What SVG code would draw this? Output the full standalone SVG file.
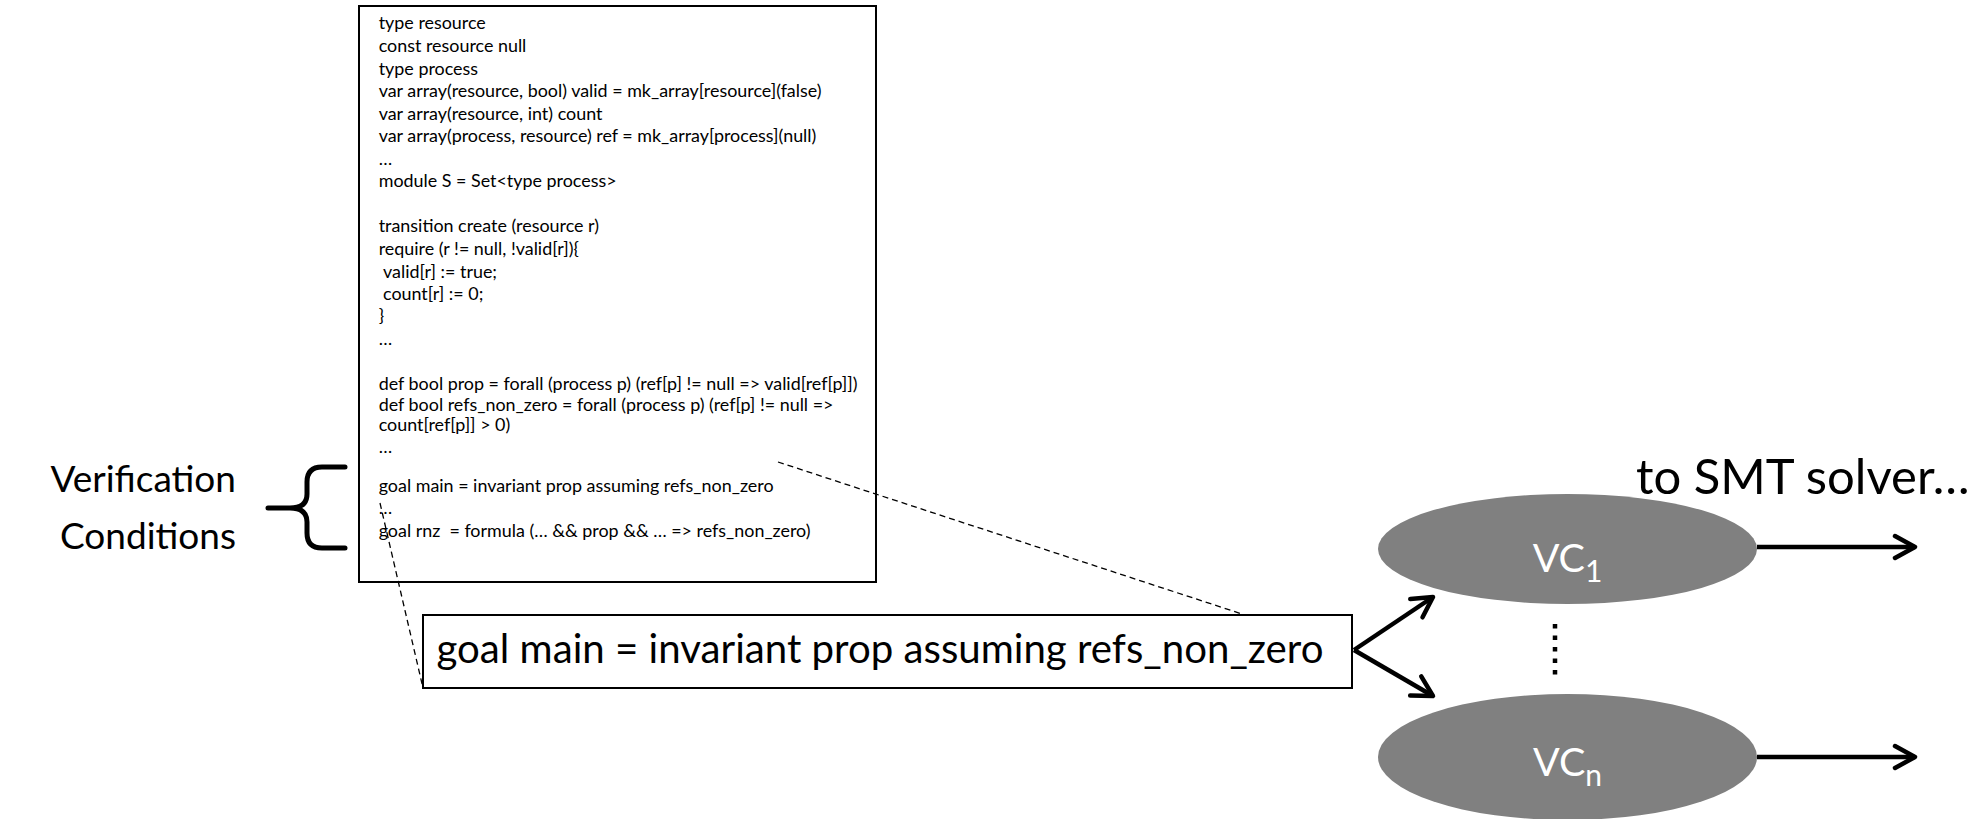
<svg xmlns="http://www.w3.org/2000/svg" width="1978" height="819" viewBox="0 0 1978 819">
  <style>
    .code { font-family: Lato, "Liberation Sans", sans-serif; font-size: 17.9px; fill: #000; }
    .big { font-family: Lato, "Liberation Sans", sans-serif; font-size: 40.2px; fill: #000; }
    .smt { font-family: Lato, "Liberation Sans", sans-serif; font-size: 49px; fill: #000; }
    .side { font-family: Lato, "Liberation Sans", sans-serif; font-size: 37px; fill: #000; }
    .vc { font-family: Lato, "Liberation Sans", sans-serif; font-size: 39.5px; fill: #fff; }
    .sub { font-size: 30px; }
    .box { fill: #fff; stroke: #000; stroke-width: 2; }
    .vcnode { fill: #808080; stroke: none; }
    .arrow { stroke: #000; stroke-width: 4.5; fill: none; marker-end: url(#open); }
    .dash { stroke: #000; stroke-width: 1.3; stroke-dasharray: 6 4; fill: none; }
  </style>
  <defs>
    <marker id="open" viewBox="0 0 28 28" refX="24" refY="14" markerWidth="28" markerHeight="28" markerUnits="userSpaceOnUse" orient="auto">
      <path d="M4,3 L24,14 L4,25" fill="none" stroke="#000" stroke-width="4.5" stroke-linecap="round" stroke-linejoin="round"/>
    </marker>
  </defs>

  <rect width="1978" height="819" fill="#fff"/>

  <!-- source listing -->
  <g id="code-box">
    <rect class="box" x="359" y="6" width="517" height="576"/>
    <g class="code">
      <text x="378.7" y="29">type resource</text>
      <text x="378.7" y="52">const resource null</text>
      <text x="378.7" y="74.5">type process</text>
      <text x="378.7" y="97">var array(resource, bool) valid = mk_array[resource](false)</text>
      <text x="378.7" y="119.5">var array(resource, int) count</text>
      <text x="378.7" y="142">var array(process, resource) ref = mk_array[process](null)</text>
      <text x="378.7" y="164.5">…</text>
      <text x="378.7" y="187">module S = Set&lt;type process&gt;</text>
      <text x="378.7" y="232">transition create (resource r)</text>
      <text x="378.7" y="255">require (r != null, !valid[r]){</text>
      <text x="383" y="277.5">valid[r] := true;</text>
      <text x="383" y="300">count[r] := 0;</text>
      <text x="378.7" y="322">}</text>
      <text x="378.7" y="345">…</text>
      <text x="378.7" y="390">def bool prop = forall (process p) (ref[p] != null =&gt; valid[ref[p]])</text>
      <text x="378.7" y="411">def bool refs_non_zero = forall (process p) (ref[p] != null =&gt;</text>
      <text x="378.7" y="430.5">count[ref[p]] &gt; 0)</text>
      <text x="378.7" y="452.5">…</text>
      <text x="378.7" y="491.5">goal main = invariant prop assuming refs_non_zero</text>
      <text x="378.7" y="514">…</text>
      <text x="378.7" y="537" xml:space="preserve">goal rnz  = formula (… &amp;&amp; prop &amp;&amp; … =&gt; refs_non_zero)</text>
    </g>
  </g>

  <!-- side label with brace -->
  <g id="vc-label">
    <text class="side" x="236" y="492" text-anchor="end">Verification</text>
    <text class="side" x="236" y="549" text-anchor="end" font-size="35.7">Conditions</text>
    <path d="M345,467 L322,467 Q307,467 307,482 L307,494 Q307,508 290,508 L268,508 M290,508 Q307,508 307,522 L307,533 Q307,548 322,548 L345,548" fill="none" stroke="#000" stroke-width="5" stroke-linecap="round" stroke-linejoin="round"/>
  </g>

  <!-- selected goal -->
  <g id="goal-box">
    <rect class="box" x="423" y="615" width="929" height="73"/>
    <text class="big" x="436.5" y="663">goal main = invariant prop assuming refs_non_zero</text>
  </g>

  <!-- generated conditions -->
  <g id="vc1">
    <ellipse class="vcnode" cx="1567.5" cy="549" rx="189.5" ry="55"/>
    <text class="vc" x="1567.5" y="572" text-anchor="middle">VC<tspan class="sub" dy="10">1</tspan></text>
  </g>
  <g id="vcn">
    <ellipse class="vcnode" cx="1567.5" cy="757" rx="189.5" ry="63"/>
    <text class="vc" x="1567.5" y="776" text-anchor="middle">VC<tspan class="sub" dy="10">n</tspan></text>
  </g>

  <g id="smt-label">
    <text class="smt" x="1636" y="494">to SMT solver…</text>
  </g>

  <g id="connectors">
    <line class="dash" x1="778" y1="462" x2="1242" y2="614"/>
    <line class="dash" x1="380" y1="503" x2="423" y2="688"/>
    <line class="arrow" x1="1354" y1="650" x2="1433" y2="597"/>
    <line class="arrow" x1="1354" y1="650" x2="1433" y2="696"/>
    <line class="arrow" x1="1757" y1="547" x2="1915" y2="547"/>
    <line class="arrow" x1="1757" y1="757" x2="1915" y2="757"/>
    <line x1="1555" y1="624" x2="1555" y2="678" stroke="#000" stroke-width="4.5" stroke-dasharray="4.5 7"/>
  </g>
</svg>
